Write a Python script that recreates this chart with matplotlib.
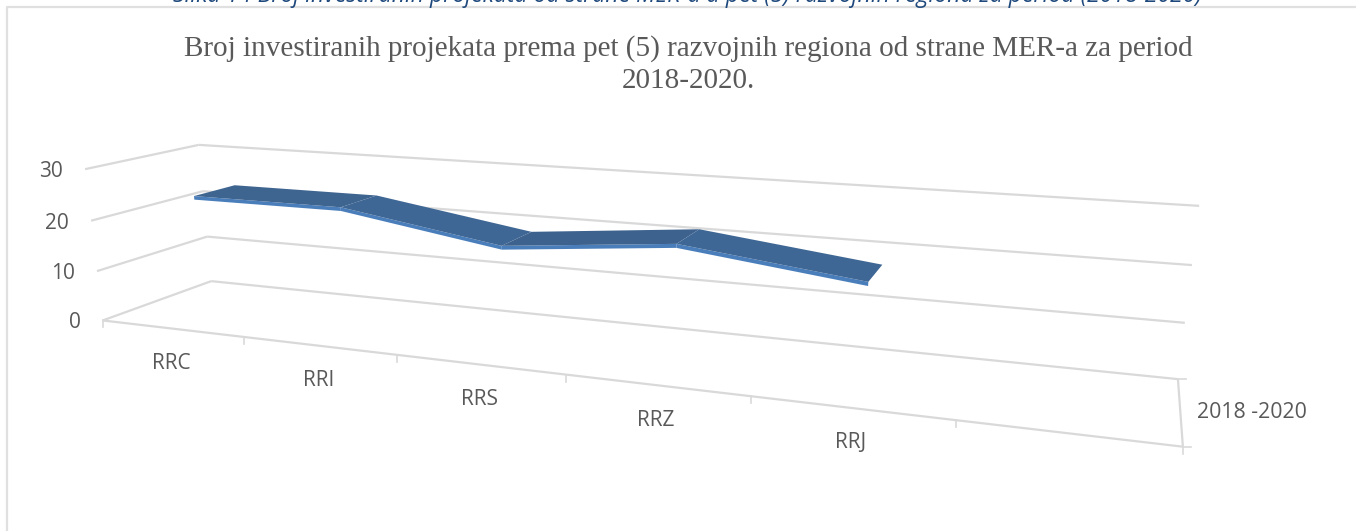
"""Excel style 3D ribbon chart, projected by hand on a flat axes."""
import matplotlib
matplotlib.use("Agg")
import matplotlib.pyplot as plt
import numpy as np

W, H = 1356, 531

categories = ["RRC", "RRI", "RRS", "RRZ", "RRJ"]
values = [24.1, 24.1, 19.3, 22.2, 18.4]
y_ticks = [0, 10, 20, 30]
series_name = "2018 -2020"
n_slots = 6  # Excel left one empty slot after RRJ

title = "Broj investiranih projekata prema pet (5) razvojnih regiona od strane MER-a za period\n2018-2020."
caption = "Slika 14 Broj investiranih projekata od strane MER-a u pet (5) razvojnih regiona za period (2018-2020)"

# camera calibration: (slot, depth, value) -> pixel, read from the box corners
anchors = [
    (0, 0, 0, 103, 320), (0, 1, 0, 211, 281), (6, 1, 0, 1178, 378), (6, 0, 0, 1183, 446),
    (0, 0, 10, 97, 271), (0, 1, 10, 207, 237), (6, 1, 10, 1185, 323),
    (0, 0, 20, 91, 220), (0, 1, 20, 203, 191.5), (6, 1, 20, 1192, 265),
    (0, 0, 30, 85, 169), (0, 1, 30, 199, 145), (6, 1, 30, 1199, 206),
    (1, 0, 0, 244, 337), (2, 0, 0, 397, 355), (3, 0, 0, 566, 375), (4, 0, 0, 751, 397), (5, 0, 0, 955, 421),
]


def fit_camera(pts):
    rows = []
    for u, d, v, x, y in pts:
        p = [u, d, v / 10, 1]
        x, y = x / 1000, y / 1000
        rows.append(p + [0, 0, 0, 0] + [-x * c for c in p])
        rows.append([0, 0, 0, 0] + p + [-y * c for c in p])
    return np.linalg.svd(np.array(rows))[2][-1].reshape(3, 4)


CAM = fit_camera(anchors)


def project(u, d, v):
    p = CAM @ np.array([u, d, v / 10, 1.0])
    return p[0] / p[2] * 1000, p[1] / p[2] * 1000


fig = plt.figure(figsize=(W / 100, H / 100), dpi=100)
ax = fig.add_axes([0, 0, 1, 1])
ax.set_xlim(0, W)
ax.set_ylim(H, 0)
ax.axis("off")

GRID = "#d9d9d9"
TEXT = "#595959"
SANS = "Open Sans"


def seg(a, b, lw=1.6):
    xa, ya = project(*a)
    xb, yb = project(*b)
    ax.plot([xa, xb], [ya, yb], color=GRID, lw=lw, solid_capstyle="butt", zorder=1)


# chart frame
ax.plot([W, 7, 7], [6.5, 6.5, H], color="#e0e0e0", lw=1.6)

# walls and floor
for t in y_ticks:
    seg((0, 0, t), (0, 1, t))
    seg((0, 1, t), (n_slots, 1, t))
    x, y = project(0, 0, t)
    ax.text(x - 22, y + 2.5, str(t), ha="right", va="center", fontsize=15, color=TEXT, family=SANS)
seg((0, 0, 0), (n_slots, 0, 0))
seg((n_slots, 0, 0), (n_slots, 1, 0))
for i in range(n_slots + 1):
    x, y = project(i, 0, 0)
    ax.plot([x, x], [y, y + 7], color=GRID, lw=1.2, zorder=1)
for d in [0, 1]:
    x, y = project(n_slots, d, 0)
    ax.plot([x, x + 8], [y, y], color=GRID, lw=1.2, zorder=1)

# ribbon
d_front, d_back = 0.3, 0.68
thick = 0.7
top_cols = ["#3e6490", "#3f6795", "#3d628e", "#3f6795"]
for i in range(len(values) - 1):
    v0, v1 = values[i], values[i + 1]
    u0, u1 = i + 0.5, i + 1.5
    top = [project(u0, d_front, v0), project(u1, d_front, v1), project(u1, d_back, v1), project(u0, d_back, v0)]
    edge = [project(u0, d_front, v0), project(u1, d_front, v1), project(u1, d_front, v1 - thick), project(u0, d_front, v0 - thick)]
    ax.fill(*zip(*edge), color="#4a7ebb", lw=0, zorder=3)
    ax.fill(*zip(*top), color=top_cols[i], lw=0, zorder=3)

# category labels, under the front edge
for i, c in enumerate(categories):
    x, y = project(i + 0.5, 0, 0)
    ax.text(x, y + 35, c, ha="center", va="center", fontsize=15, color=TEXT, family=SANS)

ax.text(1197, 413, series_name, ha="left", va="center", fontsize=15.3, color=TEXT, family=SANS)

ax.text(688, 65, title, ha="center", va="center", fontsize=21, color=TEXT, family="Liberation Serif", linespacing=1.3)
ax.text(687, 2.5, caption, ha="center", va="baseline", fontsize=16.6, color="#1f497d", style="italic", family="Open Sans")

fig.savefig("out.png", dpi=100)
